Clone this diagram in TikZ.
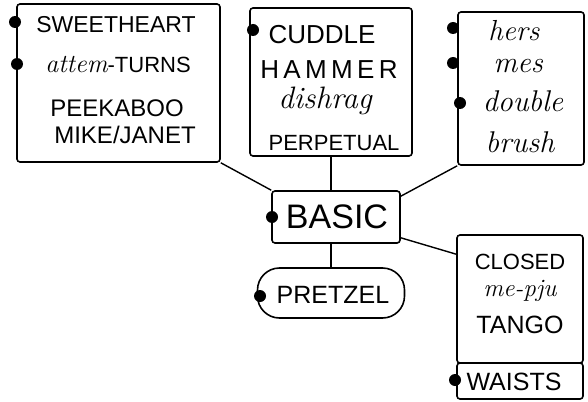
\documentclass[tikz,border=0pt]{standalone}
\usepackage{fontspec}
\newfontfamily\hwfont{Liberation Sans}
\newcommand\cursfont{\rmfamily\itshape}
\usetikzlibrary{calc}
\tikzset{
  box/.style={draw, line width=1.6pt, rounded corners=3pt, inner sep=0pt},
  capt/.style={font=\hwfont\fontsize{#1}{#1}\selectfont, inner sep=0pt},
  curs/.style={font=\cursfont\fontsize{#1}{#1}\selectfont, inner sep=0pt},
  dot/.style={circle, fill=black, inner sep=0pt, minimum size=12pt},
  link/.style={line width=1.4pt}
}
\begin{document}
\begin{tikzpicture}[x=1pt,y=-1pt]
\useasboundingbox (0,0) rectangle (588,401);
% boxes
\node[box, minimum width=203pt, minimum height=158pt] (b1) at (118.5,83) {};
\node[box, minimum width=162pt, minimum height=148pt] (b2) at (331,82) {};
\node[box, minimum width=126pt, minimum height=153pt] (b3) at (521,88.5) {};
\node[box, minimum width=128pt, minimum height=52pt] (basic) at (336,217) {};
\node[box, rounded corners=22pt, minimum width=147pt, minimum height=50pt] (pretzel) at (331,293) {};
\node[box, minimum width=126pt, minimum height=128pt] (b4) at (520,299) {};
\node[box, minimum width=126pt, minimum height=36pt] (b5) at (520,381) {};
% texts box 1
\node[capt=23] (t1) at (116,25) {SWEETHEART};
\node[capt=22] (t2) at (118,65) {{\cursfont\fontsize{26}{26}\selectfont attem}-TURNS};
\node[capt=24] (t3) at (117,108) {PEEKABOO};
\node[capt=24] (t4) at (125,135) {MIKE/JANET};
% texts box 2
\node[capt=26] (t5) at (322,35) {CUDDLE};
\node[capt=26] (t6) at (329,70) {H\,A\,M\,M\,E\,R};
\node[curs=31] (t7) at (325,101) {dishrag};
\node[capt=22] (t8) at (334,143) {PERPETUAL};
% texts box 3
\node[curs=29] (t9) at (514,31) {hers};
\node[curs=30] (t10) at (518,66) {mes};
\node[curs=30] (t11) at (523,101) {double};
\node[curs=30] (t12) at (520,142) {brush};
% basic, pretzel
\node[capt=34] (t13) at (337,217) {BASIC};
\node[capt=25] (t14) at (333,295) {PRETZEL};
% box 4
\node[capt=22] (t15) at (520,262) {CLOSED};
\node[curs=25] (t16) at (520,291) {me-pju};
\node[capt=25] (t17) at (520,325) {TANGO};
\node[capt=25] (t18) at (514,382) {WAISTS};
% dots
\node[dot] (d1) at (15,22) {};
\node[dot] (d2) at (17,64) {};
\node[dot] (d3) at (253,30) {};
\node[dot] (d4) at (453,28) {};
\node[dot] (d5) at (453,63) {};
\node[dot] (d6) at (460,103) {};
\node[dot] (d7) at (272,217) {};
\node[dot] (d8) at (260,296) {};
\node[dot] (d9) at (455,380) {};
% connectors
\draw[link] (b1.south east) -- (basic.north west);
\draw[link] (b2.south) -- (b2.south |- basic.north);
\draw[link] (b3.south west) -- ($(basic.north east)+(0,6)$);
\draw[link] (basic.south -| pretzel.north) -- (pretzel.north);
\draw[link] ($(basic.south east)+(0,-6)$) -- ($(b4.north west)+(0,20)$);
\end{tikzpicture}
\end{document}
